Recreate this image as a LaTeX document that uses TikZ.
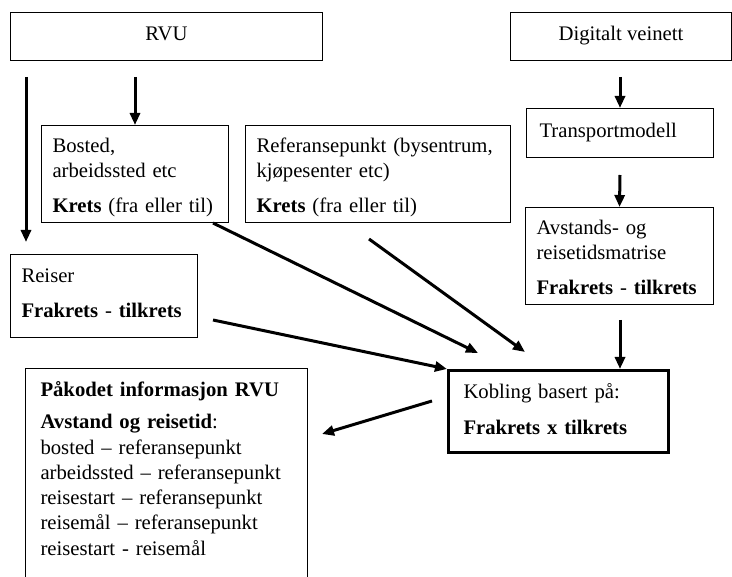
\documentclass[tikz,border=0pt]{standalone}
\usepackage{fontspec}
\setmainfont{Liberation Serif}
\usetikzlibrary{arrows.meta, positioning}

\begin{document}
\begin{tikzpicture}[x=1pt, y=-1pt,
    box/.style={draw, rectangle, line width=1pt, anchor=north west, inner ysep=0pt, align=left, font=\fontsize{20.7}{25.3}\selectfont},
    arr/.style={-{Triangle[length=12pt, width=10pt]}, line width=3pt}]
    \clip (0,0) rectangle (732,577);
    \node[box, minimum width=312pt, align=center, text height=28pt, text depth=20pt] (rvu) at (10,12) {RVU};
    \node[box, minimum width=221pt, align=center, text height=28pt, text depth=20pt] (veinett) at (510,12) {Digitalt veinett};
    \node[box, inner xsep=11pt, text width=165pt, text height=27pt, text depth=70pt] (bosted) at (41,125) {Bosted,\\arbeidssted etc\\[9pt]\textbf{Krets} (fra eller til)};
    \node[box, inner xsep=11pt, text width=243pt, text height=27pt, text depth=70pt] (refpkt) at (245,125) {Referansepunkt (bysentrum,\\kjøpesenter etc)\\[9pt]\textbf{Krets} (fra eller til)};
    \node[box, inner xsep=13pt, text width=161pt, text height=29pt, text depth=20pt] (transp) at (526,108) {Transportmodell};
    \node[box, inner xsep=11pt, text width=166pt, text height=27pt, text depth=70pt] (avstand) at (525,207) {Avstands- og\\reisetidsmatrise\\[9pt]\textbf{Frakrets} - \textbf{tilkrets}};
    \node[box, inner xsep=11pt, text width=165pt, text height=28pt, text depth=55pt] (reiser) at (10,254) {Reiser\\[10pt]\textbf{Frakrets} - \textbf{tilkrets}};
    \node[box, line width=3pt, inner xsep=15pt, text width=190pt, text height=28pt, text depth=54pt] (kobling) at (447,369) {Kobling basert på:\\[11pt]\textbf{Frakrets x tilkrets}};
    \node[box, inner xsep=15pt, text width=252pt, text height=28pt, text depth=204pt] (pakodet) at (25,368) {\textbf{Påkodet informasjon RVU}\\[7pt]\textbf{Avstand og reisetid}:\\bosted – referansepunkt\\arbeidssted – referansepunkt\\reisestart – referansepunkt\\reisemål – referansepunkt\\reisestart - reisemål};

    \coordinate (rvu-a) at (26,77);
    \coordinate (reiser-a) at (26,242);
    \coordinate (rvu-b) at (135,77);
    \coordinate (veinett-a) at (620,77);
    \coordinate (transp-a) at (620,175);
    \coordinate (avstand-a) at (620,320);
    \coordinate (bosted-a) at (213,223);
    \coordinate (refpkt-a) at (369,239);
    \coordinate (reiser-b) at (213,320);
    \coordinate (kobling-a) at (478,353);
    \coordinate (kobling-b) at (525,352);
    \coordinate (kobling-c) at (432,401);
    \coordinate (pakodet-a) at (322,434);

    \draw[arr] (rvu-a) -- (reiser-a);
    \draw[arr] (rvu-b) -- (bosted.north);
    \draw[arr] (veinett-a) -- (transp.north);
    \draw[arr] (transp-a) -- (avstand.north);
    \draw[arr] (avstand-a) -- (avstand-a |- kobling.north);
    \draw[arr] (bosted-a) -- (kobling-a);
    \draw[arr] (refpkt-a) -- (kobling-b);
    \draw[arr] (reiser-b) -- (kobling.north west);
    \draw[arr] (kobling-c) -- (pakodet-a);
\end{tikzpicture}
\end{document}
